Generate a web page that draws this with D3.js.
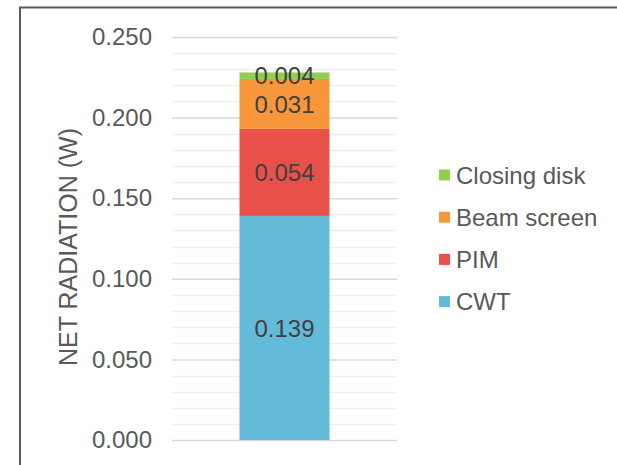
<!DOCTYPE html>
<html>
<head>
<meta charset="utf-8">
<script src="https://cdn.jsdelivr.net/npm/d3@7"></script>
<style>
  body { margin: 0; background: #fff; }
  text { font-family: "Liberation Sans", Arial, sans-serif; }
</style>
</head>
<body>
<div id="chart"></div>
<script>
// data, bottom to top of the stack
const categories = ["Total"];
const seriesNames = ["CWT", "PIM", "Beam screen", "Closing disk"];
const seriesValues = [0.139, 0.054, 0.031, 0.004];
const seriesColors = ["#64BBD9", "#E8514A", "#F8963B", "#8FCF4F"];
const tickValues = [0, 0.05, 0.1, 0.15, 0.2, 0.25];

const width = 617, height = 465;
const margin = {top: 37, left: 172, right: 220, bottom: 25};

const svg = d3.select("#chart")
    .append("svg")
    .attr("width", width)
    .attr("height", height);

// outer frame (only top and left edges are in view)
svg.append("path")
    .attr("d", `M20,${height} L20,7.5 L${width},7.5`)
    .attr("fill", "none")
    .attr("stroke", "#595959")
    .attr("stroke-width", 2);

const xScale = d3.scaleBand()
    .domain(categories)
    .range([172, 397])
    .padding(0.4286);

const yScale = d3.scaleLinear()
    .domain([0, 0.25])
    .range([440, 37]);

// minor gridlines
svg.append("g")
    .selectAll("line")
    .data(d3.range(0, 26).map(i => i / 100).filter((d, i) => i % 5 !== 0))
    .enter()
    .append("line")
        .attr("x1", 172).attr("x2", 397)
        .attr("y1", d => Math.round(yScale(d)) + 0.5)
        .attr("y2", d => Math.round(yScale(d)) + 0.5)
        .attr("stroke", "#efefef")
        .attr("stroke-width", 1.5);

// major gridlines + tick labels
const yAxis = svg.append("g")
    .attr("transform", "translate(172,0)")
    .call(d3.axisLeft(yScale).tickValues(tickValues).tickFormat(d3.format(".3f"))
        .tickSize(-225).tickPadding(20));
yAxis.select(".domain").remove();
yAxis.selectAll(".tick line").attr("stroke", "#d9d9d9").attr("stroke-width", 1.5);
yAxis.selectAll(".tick text")
    .attr("fill", "#595959")
    .style("font-size", "24px")
    .style("font-family", "'Liberation Sans', Arial, sans-serif");

// stacked bar
const rows = [Object.fromEntries(seriesNames.map((s, i) => [s, seriesValues[i]]))];
rows[0].cat = categories[0];
const stacked = d3.stack().keys(seriesNames)(rows);

const layers = svg.selectAll("g.layer")
    .data(stacked)
    .enter()
    .append("g")
        .attr("class", "layer")
        .attr("fill", (d, i) => seriesColors[i]);

layers.selectAll("rect")
    .data(d => d)
    .enter()
    .append("rect")
        .attr("x", d => xScale(d.data.cat))
        .attr("y", d => yScale(d[1]))
        .attr("width", xScale.bandwidth())
        .attr("height", d => yScale(d[0]) - yScale(d[1]));

// value labels
stacked.forEach((layer, i) => {
    const d = layer[0];
    svg.append("text")
        .attr("x", xScale(d.data.cat) + xScale.bandwidth() / 2)
        .attr("y", (yScale(d[0]) + yScale(d[1])) / 2)
        .attr("dy", "0.36em")
        .attr("text-anchor", "middle")
        .attr("fill", "#404040")
        .style("font-size", "24px")
        .text(d3.format(".3f")(seriesValues[i]));
});

// y axis title
svg.append("text")
    .attr("transform", "rotate(-90)")
    .attr("x", -247)
    .attr("y", 76.5)
    .attr("text-anchor", "middle")
    .attr("fill", "#595959")
    .style("font-size", "25px")
    .text("NET RADIATION (W)");

// legend, top entry is the top of the stack
const legendItems = seriesNames.map((s, i) => ({name: s, color: seriesColors[i]})).reverse();
const legend = svg.selectAll("g.legend")
    .data(legendItems)
    .enter()
    .append("g")
        .attr("class", "legend")
        .attr("transform", (d, i) => `translate(439,${175 + i * 42.2})`);

legend.append("rect")
    .attr("x", 0).attr("y", -5.5)
    .attr("width", 11).attr("height", 11)
    .attr("fill", d => d.color);

legend.append("text")
    .attr("x", 17)
    .attr("dy", "0.36em")
    .attr("fill", "#595959")
    .style("font-size", "24px")
    .text(d => d.name);
</script>
</body>
</html>
